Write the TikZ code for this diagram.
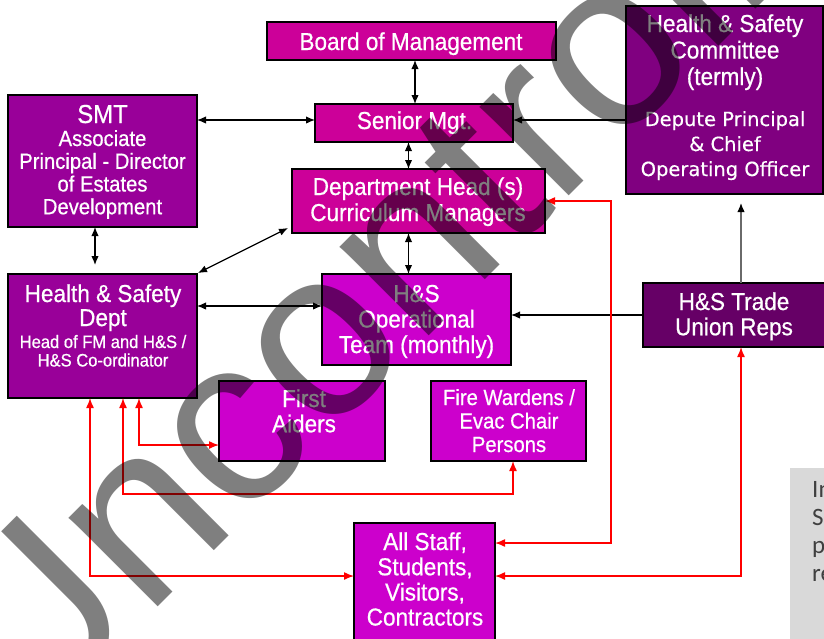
\documentclass[tikz,border=0pt]{standalone}
\usepackage{fontspec}
\setmainfont{Liberation Sans}[FakeStretch=0.92,FakeBold=0.6]
\newfontfamily\dvfont{DejaVu Sans}[FakeBold=0.4]
\newfontfamily\calfont{Carlito}
\newfontfamily\wmfont{Liberation Sans}
\usetikzlibrary{arrows.meta}
\definecolor{cpink}{HTML}{CC0099}
\definecolor{csmt}{HTML}{990099}
\definecolor{ccomm}{HTML}{800080}
\definecolor{ctrade}{HTML}{660066}
\definecolor{cbright}{HTML}{CC00CC}
\definecolor{cnote}{HTML}{D9D9D9}
\definecolor{cnotetext}{HTML}{404040}
\definecolor{cgreyline}{HTML}{6A6A6A}
\newcommand{\mlines}[1]{\begin{tabular}[t]{@{}c@{}}#1\end{tabular}}
\tikzset{
  box/.style={draw=black, line width=1.4pt, inner sep=0pt, outer sep=0pt},
  lbl/.style={text=white, inner sep=0pt, anchor=base},
  biarr/.style={draw=black, line width=1.3pt, arrows={Latex[length=9pt,width=7.5pt]-Latex[length=9pt,width=7.5pt]}},
  arr/.style={draw=black, line width=1.3pt, arrows={-Latex[length=9pt,width=7.5pt]}},
  greyarr/.style={draw=cgreyline, line width=1.3pt, arrows={-Latex[length=9pt,width=7.5pt,color=black]}},
  redarr/.style={draw=red, line width=1.4pt, arrows={Latex[length=10pt,width=8pt]-Latex[length=10pt,width=8pt]}},
}
\begin{document}
\begin{tikzpicture}[x=1pt,y=-1pt]
\useasboundingbox (0,0) rectangle (824,638);
\clip (0,0) rectangle (824,638);

% boxes
\node[box, fill=cpink, minimum width=289pt, minimum height=38pt] (board) at (411.5,41) {};
\node[box, fill=cpink, minimum width=198pt, minimum height=38pt] (senior) at (414,123) {};
\node[box, fill=csmt, minimum width=189pt, minimum height=132pt] (smt) at (102.5,161) {};
\node[box, fill=ccomm, minimum width=197pt, minimum height=188pt] (comm) at (724.5,100) {};
\node[box, fill=cpink, minimum width=253pt, minimum height=64pt] (dh) at (418.5,201) {};
\node[box, fill=csmt, minimum width=189pt, minimum height=124pt] (hsd) at (102.5,336) {};
\node[box, fill=cbright, minimum width=189pt, minimum height=91pt] (ops) at (416.5,319.5) {};
\node[box, fill=ctrade, minimum width=182pt, minimum height=64pt] (trade) at (734,315) {};
\node[box, fill=cbright, minimum width=166pt, minimum height=80pt] (fa) at (302,421) {};
\node[box, fill=cbright, minimum width=155pt, minimum height=80pt] (fw) at (508.5,421) {};
\node[box, fill=cbright, minimum width=141pt, minimum height=122pt] (all) at (424.5,584) {};
\node[fill=cnote, inner sep=0pt, minimum width=40pt, minimum height=180pt] (note) at (810,558) {};

% texts
\node[lbl, font=\fontsize{24.5}{25.5}\selectfont] (board-t) at (411,50) {Board of Management};
\node[lbl, font=\fontsize{24.5}{25.5}\selectfont] (senior-t) at (414.5,129) {Senior Mgt.};
\node[lbl, font=\fontsize{26}{26}\selectfont] (smt-t) at (102.5,123) {SMT};
\node[lbl, font=\fontsize{22}{22.7}\selectfont] (smt-s) at (102.5,146) {\mlines{Associate\\Principal - Director\\of Estates\\Development}};
\node[lbl, font=\fontsize{24.5}{26.5}\selectfont] (comm-t) at (725,32) {\mlines{Health \& Safety\\Committee\\(termly)}};
\node[lbl, font=\dvfont\fontsize{19.5}{25}\selectfont] (comm-s) at (725,126) {\mlines{Depute Principal\\\& Chief\\Operating Officer}};
\node[lbl, font=\fontsize{24.5}{26}\selectfont] (dh-t) at (418,195) {\mlines{Department Head (s)\\Curriculum Managers}};
\node[lbl, font=\fontsize{24.5}{24}\selectfont] (hsd-t) at (103,302) {\mlines{Health \& Safety\\Dept}};
\node[lbl, font=\fontsize{18}{18}\selectfont] (hsd-s) at (103,348) {\mlines{Head of FM and H\&S /\\H\&S Co-ordinator}};
\node[lbl, font=\fontsize{24.5}{25.5}\selectfont] (ops-t) at (416.5,302) {\mlines{H\&S\\Operational\\Team (monthly)}};
\node[lbl, font=\fontsize{24.5}{25}\selectfont] (trade-t) at (734,310) {\mlines{H\&S Trade\\Union Reps}};
\node[lbl, font=\fontsize{24.5}{25}\selectfont] (fa-t) at (304,407) {\mlines{First\\Aiders}};
\node[lbl, font=\fontsize{22}{23.5}\selectfont] (fw-t) at (509,405) {\mlines{Fire Wardens /\\Evac Chair\\Persons}};
\node[lbl, font=\fontsize{24.5}{25}\selectfont] (all-t) at (425,550) {\mlines{All Staff,\\Students,\\Visitors,\\Contractors}};
\node[anchor=base west, inner sep=0pt, text=cnotetext, font=\calfont\fontsize{25}{28}\selectfont] (note-t) at (812,497) {\begin{tabular}[t]{@{}l@{}}In\\S\\p\\re\end{tabular}};

% black connectors
\draw[biarr] ([shift={(3.5,0)}]board.south) -- ([shift={(1,0)}]senior.north);
\draw[biarr] ([shift={(-5.5,0)}]senior.south) -- ([shift={(-5.5,0)}]senior.south |- dh.north);
\draw[biarr] ([shift={(-10,0)}]dh.south) -- ([shift={(-10,0)}]dh.south |- ops.north);
\draw[biarr] ([shift={(0,-41)}]smt.east) -- ([shift={(0,-3)}]senior.west);
\draw[arr] ([shift={(0,20)}]comm.west) -- ([shift={(0,-3)}]senior.east);
\draw[biarr] ([shift={(-7.5,0)}]smt.south) -- ([shift={(-7.5,-9)}]hsd.north);
\draw[biarr] ([shift={(-4,-5)}]dh.south west) -- ([shift={(1,-1)}]hsd.north east);
\draw[biarr] ([shift={(0,-30)}]hsd.east) -- ([shift={(0,-13.5)}]ops.west);
\draw[arr] (trade.west) -- ([shift={(0,-4.5)}]ops.east);
\draw[greyarr] ([shift={(7,0)}]trade.north) -- ([shift={(16.5,9)}]comm.south);

% red connectors
\draw[redarr] (dh.east) -- ++(66,0) |- ([shift={(0,-41)}]all.east);
\draw[redarr] ([shift={(36.5,0)}]hsd.south) |- ([shift={(0,24)}]fa.west);
\draw[redarr] ([shift={(20.5,0)}]hsd.south) -- ++(0,96) -| ([shift={(4.5,0)}]fw.south);
\draw[redarr] ([shift={(-12.5,0)}]hsd.south) |- ([shift={(0,-8)}]all.west);
\draw[redarr] ([shift={(7,0)}]trade.south) |- ([shift={(0,-8)}]all.east);

% watermark
\node[anchor=base west, rotate=45, inner sep=0pt, font=\wmfont\fontsize{238}{238}\selectfont, text=black, text opacity=0.5] (wm) at (24.5,740.5) {Uncontrolled};
\end{tikzpicture}
\end{document}
